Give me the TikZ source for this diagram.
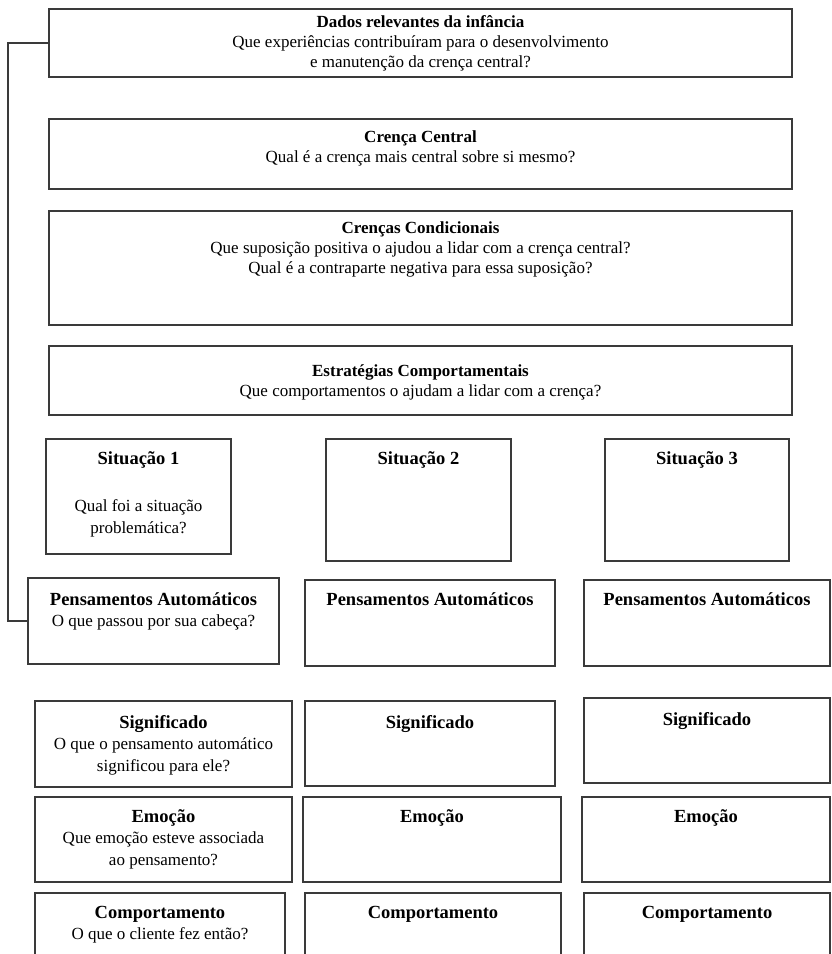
\documentclass[tikz,border=0pt]{standalone}
\usepackage{fontspec}
\setmainfont{Liberation Serif}
\definecolor{linegray}{HTML}{3A3A3A}
\newcommand\ttl[1]{\textbf{\strut #1}}
\newcommand\bigttl[1]{{\fontsize{18.5}{21.5}\selectfont\bfseries\strut #1}}
\newcommand\qln[1]{\strut #1}
\begin{document}
\begin{tikzpicture}[x=1pt,y=-1pt,
  bx/.style={draw=linegray, line width=1.5pt, inner sep=0pt, outer sep=0pt, anchor=north west},
  txt/.style={align=center, inner sep=0pt, anchor=north, font=\fontsize{17}{20}\selectfont},
  lowtxt/.style={align=center, inner sep=0pt, anchor=north, font=\fontsize{17}{21.5}\selectfont},
  conn/.style={draw=linegray, line width=1.6pt}]
\useasboundingbox (0,0) rectangle (831,954);
\clip (0,0) rectangle (831,954);
% top boxes
\node[bx, minimum width=743pt, minimum height=68pt]  (b1) at (49,9)   {};
\node[bx, minimum width=743pt, minimum height=70pt]  (b2) at (49,119) {};
\node[bx, minimum width=743pt, minimum height=114pt] (b3) at (49,211) {};
\node[bx, minimum width=743pt, minimum height=69pt]  (b4) at (49,346) {};
% situations
\node[bx, minimum width=185pt, minimum height=115pt] (s1) at (46,439)  {};
\node[bx, minimum width=185pt, minimum height=122pt] (s2) at (326,439) {};
\node[bx, minimum width=184pt, minimum height=122pt] (s3) at (605,439) {};
% automatic thoughts
\node[bx, minimum width=251pt, minimum height=86pt] (p1) at (28,578)  {};
\node[bx, minimum width=250pt, minimum height=86pt] (p2) at (305,580) {};
\node[bx, minimum width=246pt, minimum height=86pt] (p3) at (584,580) {};
% meaning
\node[bx, minimum width=257pt, minimum height=86pt] (g1) at (35,701)  {};
\node[bx, minimum width=250pt, minimum height=85pt] (g2) at (305,701) {};
\node[bx, minimum width=246pt, minimum height=85pt] (g3) at (584,698) {};
% emotion
\node[bx, minimum width=257pt, minimum height=85pt] (e1) at (35,797)  {};
\node[bx, minimum width=258pt, minimum height=85pt] (e2) at (303,797) {};
\node[bx, minimum width=248pt, minimum height=85pt] (e3) at (582,797) {};
% behaviour
\node[bx, minimum width=250pt, minimum height=80pt] (c1) at (35,893)  {};
\node[bx, minimum width=256pt, minimum height=80pt] (c2) at (305,893) {};
\node[bx, minimum width=246pt, minimum height=80pt] (c3) at (584,893) {};
% connector
\coordinate (lx) at (8,0);
\draw[conn] (b1.west) -- (b1.west -| lx) |- (p1.west);
% texts
\node[txt] (tb1) at (420.5,13) {\ttl{Dados relevantes da infância}\\\qln{Que experiências contribuíram para o desenvolvimento}\\\qln{e manutenção da crença central?}};
\node[txt] (tb2) at (420.5,128) {\ttl{Crença Central}\\\qln{Qual é a crença mais central sobre si mesmo?}};
\node[txt] (tb3) at (420.5,219) {\ttl{Crenças Condicionais}\\\qln{Que suposição positiva o ajudou a lidar com a crença central?}\\\qln{Qual é a contraparte negativa para essa suposição?}};
\node[txt] (tb4) at (420.5,362) {\ttl{Estratégias Comportamentais}\\\qln{Que comportamentos o ajudam a lidar com a crença?}};
\node[lowtxt] (ts1) at (138.5,449) {\bigttl{Situação 1}\\[26pt]\qln{Qual foi a situação}\\\qln{problemática?}};
\node[lowtxt] (ts2) at (418.5,449) {\bigttl{Situação 2}};
\node[lowtxt] (ts3) at (697,449) {\bigttl{Situação 3}};
\node[lowtxt] (tp1) at (153.5,590) {\bigttl{Pensamentos Automáticos}\\\qln{O que passou por sua cabeça?}};
\node[lowtxt] (tp2) at (430,590) {\bigttl{Pensamentos Automáticos}};
\node[lowtxt] (tp3) at (707,590) {\bigttl{Pensamentos Automáticos}};
\node[lowtxt] (tg1) at (163.5,713) {\bigttl{Significado}\\\qln{O que o pensamento automático}\\\qln{significou para ele?}};
\node[lowtxt] (tg2) at (430,713) {\bigttl{Significado}};
\node[lowtxt] (tg3) at (707,710) {\bigttl{Significado}};
\node[lowtxt] (te1) at (163.5,807) {\bigttl{Emoção}\\\qln{Que emoção esteve associada}\\\qln{ao pensamento?}};
\node[lowtxt] (te2) at (432,807) {\bigttl{Emoção}};
\node[lowtxt] (te3) at (706,807) {\bigttl{Emoção}};
\node[lowtxt] (tc1) at (160,903) {\bigttl{Comportamento}\\\qln{O que o cliente fez então?}};
\node[lowtxt] (tc2) at (433,903) {\bigttl{Comportamento}};
\node[lowtxt] (tc3) at (707,903) {\bigttl{Comportamento}};
\end{tikzpicture}
\end{document}
